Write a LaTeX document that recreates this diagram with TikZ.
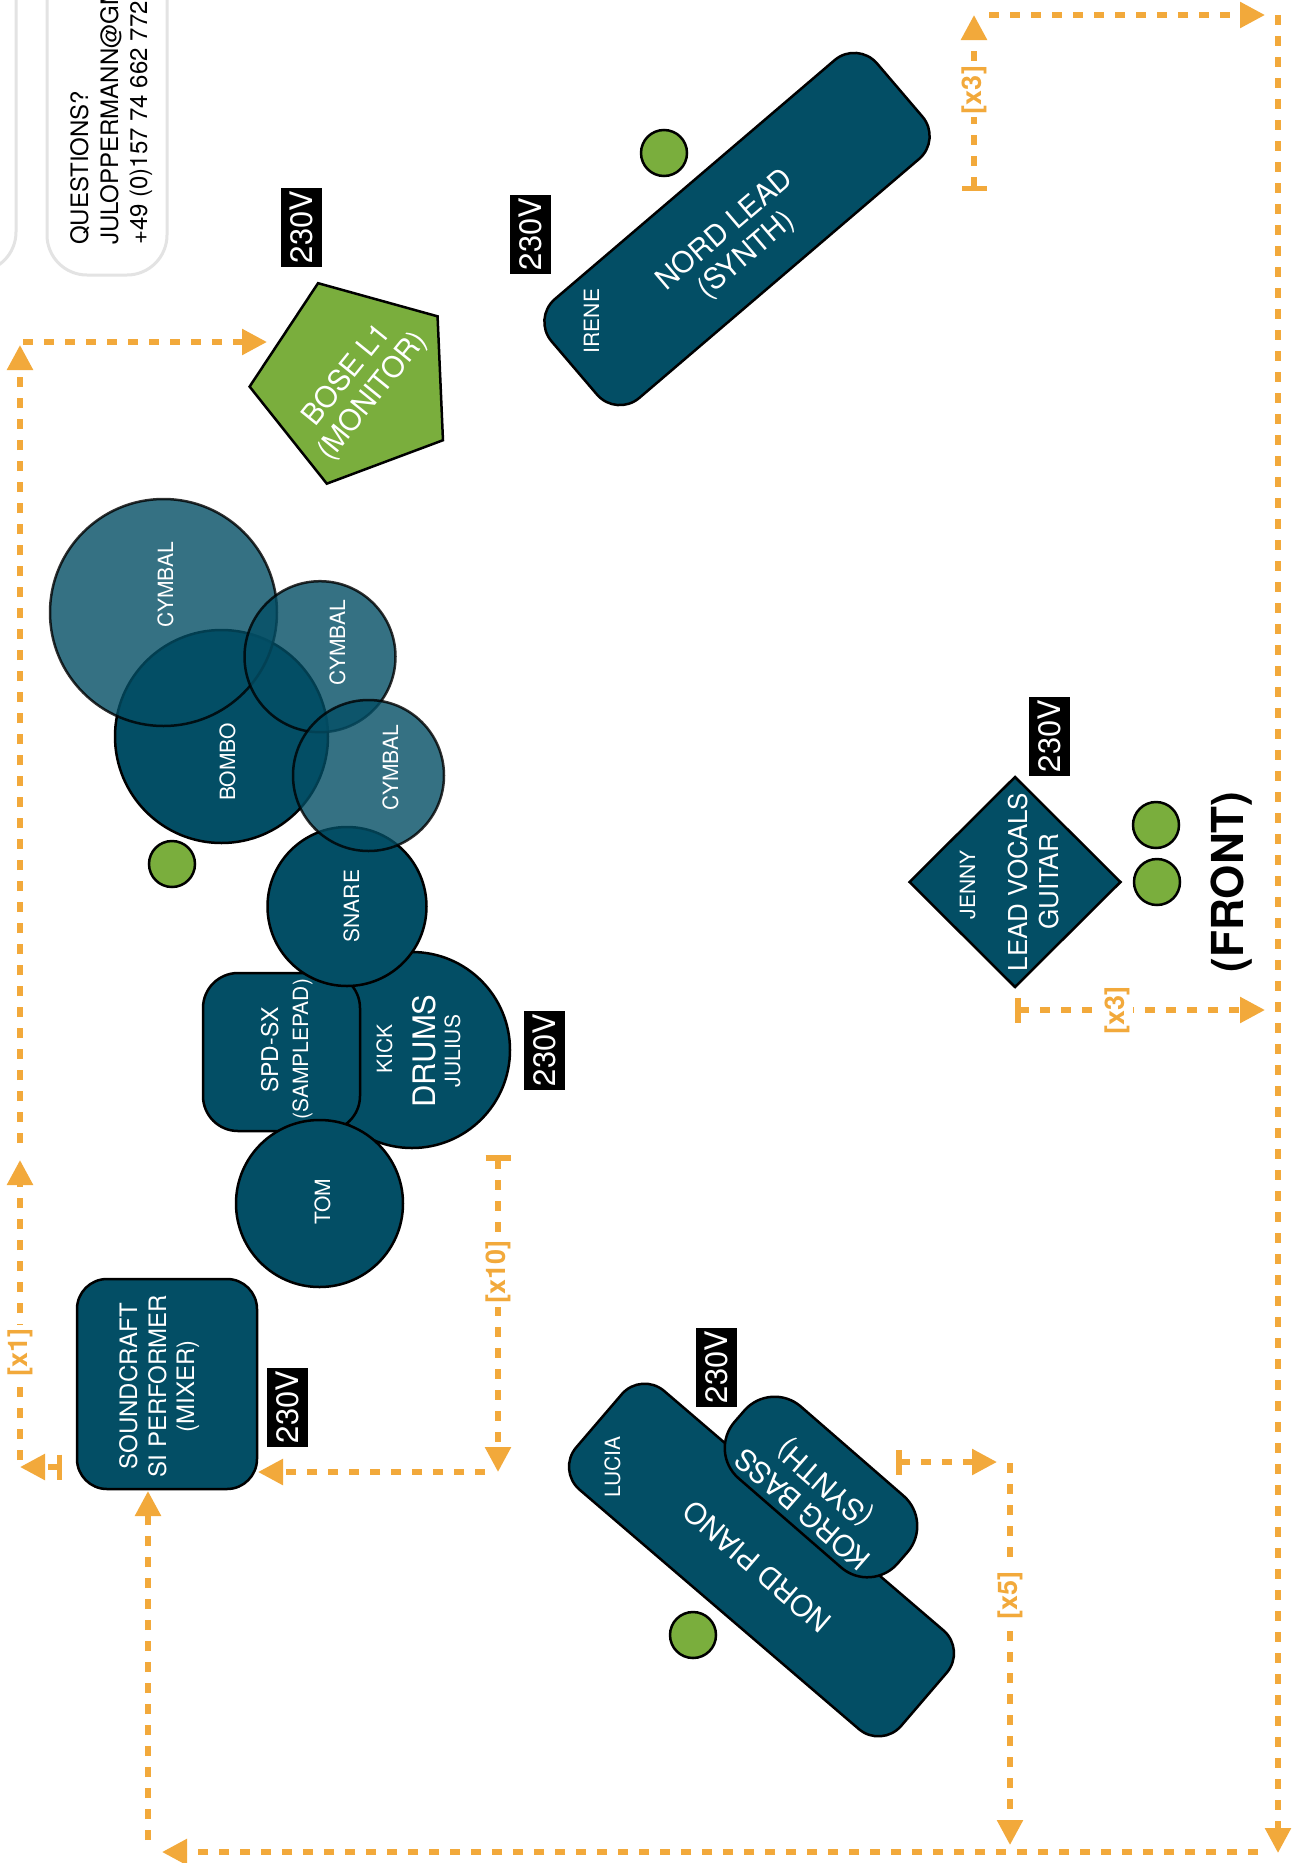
\documentclass[tikz,border=0pt]{standalone}
\usepackage{fontspec}
\setmainfont{TeX Gyre Heros}
\usepackage{tikz}
\usetikzlibrary{arrows.meta,shapes.geometric}

\definecolor{stageblue}{HTML}{034E65}
\definecolor{stagegreen}{HTML}{7AAE3D}
\definecolor{cableorange}{HTML}{F2A93B}
\definecolor{cardgray}{HTML}{E3E3E3}
\newcommand{\setfs}[2]{\fontsize{#1}{#2}\selectfont}

\begin{document}
\begin{tikzpicture}[x=1pt,y=-1pt,
    gear/.style={draw=black,line width=2.5pt,fill=stageblue,inner sep=0pt},
    pad/.style={gear,rectangle,rounded corners=#1},
    drum/.style={gear,circle,minimum size=#1},
    cymbal/.style={drum=#1,fill opacity=0.8,draw opacity=0.8},
    dot/.style={circle,draw=black,line width=2.5pt,fill=stagegreen,minimum size=46pt,inner sep=0pt},
    volt/.style={fill=black,text=white,rotate=90,minimum width=79pt,minimum height=41pt,inner sep=0pt,font=\setfs{31pt}{31pt}},
    lbl/.style={text=white,inner sep=0pt,align=center},
    vlbl/.style={text=white,inner sep=0pt,rotate=90,anchor=base},
    fsmall/.style={font=\setfs{21pt}{25pt}},
    fmid/.style={font=\setfs{24pt}{29pt}},
    fbig/.style={font=\setfs{29pt}{33pt}},
    cable/.style={draw=cableorange,line width=5.5pt,dash pattern=on 10pt off 11pt,-{Triangle[length=25pt,width=25pt]}},
    tee/.style={cable,{Bar[width=25pt]}-{Triangle[length=25pt,width=25pt]}},
    cablelbl/.style={fill=white,text=cableorange,rotate=90,inner sep=3pt,font=\bfseries\setfs{27pt}{27pt}},
    card/.style={draw=cardgray,line width=3pt,fill=white,rounded corners=40pt}]

\useasboundingbox (0,0) rectangle (1301,1863);
\fill[white] (0,0) rectangle (1301,1863);
\clip (0,0) rectangle (1301,1863);

% contact cards
\draw[card] (-400,-100) rectangle (16,272);
\draw[card] (47,-100) rectangle (167,275);
\node[anchor=base west,rotate=90,inner sep=0pt,font=\setfs{24pt}{28pt}](Ask)at(88, 245){QUESTIONS?};
\node[anchor=base west,rotate=90,inner sep=0pt,font=\setfs{24pt}{28pt}](Mail)at(118, 245){JULOPPERMANN@GMAIL.COM};
\node[anchor=base west,rotate=90,inner sep=0pt,font=\setfs{24pt}{28pt}](Phone)at(147, 245){+49 (0)157 74 662 772};

% drum kit
\node[drum=196pt](Kick)at(412, 1050){};
\node[pad=35pt,minimum width=157pt,minimum height=158pt](Spd)at(281.5, 1052){};
\node[drum=159pt](Snare)at(347, 906.5){};
\node[drum=167pt](Tom)at(319.5, 1203.5){};
\node[drum=213pt](Bombo)at(221.5, 736.5){};
\node[cymbal=227pt](CymA)at(163.5, 612.5){};
\node[cymbal=151pt](CymB)at(320, 656.7){};
\node[cymbal=151pt](CymC)at(368.5, 775.5){};

% keys, mixer, front
\node[pad=30pt,minimum width=428pt,minimum height=130pt,rotate=40.5](Lead)at(737, 229){};
\node[pad=30pt,minimum width=428pt,minimum height=130pt,rotate=-40.6](Piano)at(761.5, 1560){};
\node[pad=40pt,minimum width=216pt,minimum height=95pt,rotate=-41](Korg)at(821, 1487){};
\node[pad=30pt,minimum width=180pt,minimum height=210pt](Mixer)at(167, 1384){};
\node[gear,diamond,minimum width=212pt,minimum height=211pt](Jenny)at(1015, 882){};
\node[regular polygon,regular polygon sides=5,minimum size=211pt,draw=black,line width=2.5pt,fill=stagegreen,inner sep=0pt,rotate=20.5](Bose)at(355, 382){};

% mics
\node[dot](MicLead)at(664, 153){};
\node[dot](MicDrums)at(172, 864){};
\node[dot](MicPiano)at(693, 1635){};
\node[dot](MicVox)at(1156, 825){};
\node[dot](MicGtr)at(1157, 882){};

% power
\node[volt](PwrBose)at(301, 227){230V};
\node[volt](PwrLead)at(530, 234){230V};
\node[volt](PwrDrums)at(544, 1050){230V};
\node[volt](PwrMixer)at(287, 1407){230V};
\node[volt](PwrPiano)at(716, 1367){230V};
\node[volt](PwrJenny)at(1049, 736){230V};

% labels
\node[lbl,fbig,rotate=51](BoseTxt)at(360, 386){BOSE L1\\(MONITOR)};
\node[lbl,fbig,rotate=40.5](LeadTxt)at(736, 243){NORD LEAD\\(SYNTH)};
\node[vlbl,fsmall](IreneTxt)at(599, 321){IRENE};
\node[lbl,fbig,rotate=139.4](PianoTxt)at(757, 1567){NORD PIANO};
\node[vlbl,fsmall](LuciaTxt)at(620, 1467){LUCIA};
\node[lbl,fbig,rotate=139](KorgTxt)at(815, 1495){KORG BASS\\(SYNTH)};
\node[vlbl,fsmall](CymATxt)at(173, 585){CYMBAL};
\node[vlbl,fsmall](CymBTxt)at(345, 643){CYMBAL};
\node[vlbl,fsmall](CymCTxt)at(398, 768){CYMBAL};
\node[vlbl,fsmall](BomboTxt)at(235, 762){BOMBO};
\node[vlbl,fsmall](SnareTxt)at(359, 906){SNARE};
\node[vlbl,fsmall](TomTxt)at(330, 1202){TOM};
\node[vlbl,font=\setfs{23pt}{23pt}](SpdTxt)at(278, 1050){SPD-SX};
\node[vlbl,fsmall](SpdSub)at(308, 1049){(SAMPLEPAD)};
\node[vlbl,fsmall](KickTxt)at(392, 1049){KICK};
\node[vlbl,font=\setfs{31pt}{31pt}](DrumsTxt)at(435, 1051){DRUMS};
\node[vlbl,fsmall](JuliusTxt)at(460, 1051){JULIUS};
\node[vlbl,fmid](MixA)at(137, 1386){SOUNDCRAFT};
\node[vlbl,fmid](MixB)at(166, 1386){SI PERFORMER};
\node[vlbl,fmid](MixC)at(194, 1386){(MIXER)};
\node[vlbl,fsmall](JennyTxt)at(975, 885){JENNY};
\node[vlbl,font=\setfs{26pt}{26pt}](VoxTxt)at(1027, 882){LEAD VOCALS};
\node[vlbl,font=\setfs{26pt}{26pt}](GtrTxt)at(1058, 882){GUITAR};
\node[vlbl,text=black,font=\bfseries\setfs{44pt}{44pt}](Front)at(1243, 882){(FRONT)};

% cables
\coordinate (MixTee)at(62, 1467);
\coordinate (L1)at(20, 1467);
\coordinate (L2)at(20, 1460);
\coordinate (L3)at(20, 1160);
\coordinate (L4)at(20, 1143);
\coordinate (L5)at(20, 345);
\coordinate (T1)at(23, 342);
\coordinate (BoseIn)at(267, 342);
\draw[tee] (MixTee) -- (L1);
\draw[cable] (L2) -- (L3);
\draw[cable] (L4) -- (L5);
\draw[cable] (T1) -- (BoseIn);
\node[cablelbl](LenA)at(20, 1352){[x1]};

\coordinate (KickTee)at(498, 1155);
\coordinate (D1)at(498, 1472);
\coordinate (D2)at(485, 1472);
\coordinate (MixIn)at(258, 1472);
\draw[tee] (KickTee) -- (D1);
\draw[cable] (D2) -- (MixIn);
\node[cablelbl](LenB)at(498, 1272){[x10]};

\coordinate (LeadTee)at(974, 191);
\coordinate (N1)at(974, 15);
\coordinate (N2)at(989, 15);
\coordinate (N3)at(1265, 15);
\coordinate (R1)at(1278, 15);
\coordinate (R2)at(1278, 1853);
\coordinate (B1)at(1258, 1852);
\coordinate (B2)at(162, 1852);
\coordinate (U1)at(148, 1840);
\coordinate (MixUp)at(148, 1491);
\draw[tee] (LeadTee) -- (N1);
\draw[cable] (N2) -- (N3);
\draw[cable] (R1) -- (R2);
\draw[cable] (B1) -- (B2);
\draw[cable] (U1) -- (MixUp);
\node[cablelbl](LenC)at(974, 90){[x3]};

\coordinate (JennyTee)at(1015, 1010);
\coordinate (J1)at(1265, 1010);
\draw[tee] (JennyTee) -- (J1);
\node[cablelbl](LenD)at(1117, 1010){[x3]};

\coordinate (KorgTee)at(896, 1462);
\coordinate (K1)at(997, 1462);
\coordinate (K2)at(1010, 1463);
\coordinate (K3)at(1010, 1845);
\draw[tee] (KorgTee) -- (K1);
\draw[cable] (K2) -- (K3);
\node[cablelbl](LenE)at(1010, 1595){[x5]};
\end{tikzpicture}
\end{document}
